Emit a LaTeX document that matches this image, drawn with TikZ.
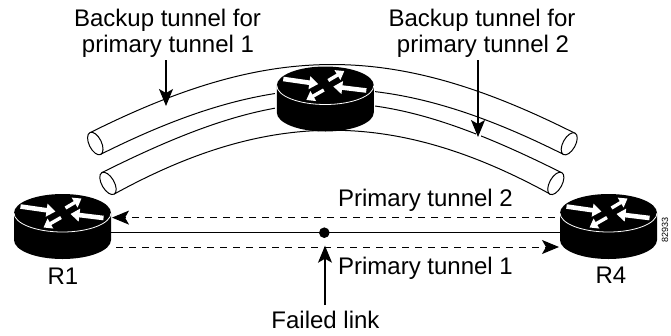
\documentclass[tikz,border=0pt]{standalone}
\usepackage{fontspec}
\setmainfont{Liberation Sans}
\usetikzlibrary{arrows.meta}
\tikzset{
  lbl/.style={inner sep=0pt,anchor=base,font=\fontsize{24}{24}\selectfont,text=black},
  tube/.style={draw=black,line width=1pt},
  ptr/.style={draw=black,line width=1.1pt,-{Stealth[length=17pt,width=14pt,inset=4pt]}},
  dashline/.style={draw=black,line width=1pt,dash pattern=on 7pt off 6pt,-{Stealth[length=17pt,width=14pt,inset=4pt,sep=0pt]}},
  rarrow/.style={draw=white,line width=4.6pt,-{Triangle[length=9pt,width=12.5pt]}},
  rarrowshort/.style={draw=white,line width=3.4pt,-{Triangle[length=8pt,width=11pt]}},
  pics/routerhalo/.style={code={
    \draw[white,line width=3pt] (-48.5,0) -- (-48.5,27) (48.5,0) -- (48.5,27);
  }},
  pics/router/.style={code={
    \fill[black] (-48.5,0) -- (-48.5,27) arc[start angle=180,end angle=0,x radius=48.5,y radius=19] -- (48.5,0) arc[start angle=0,end angle=180,x radius=48.5,y radius=-19] -- cycle;
    \draw[white,line width=.8pt] (-48.5,0) arc[start angle=180,end angle=0,x radius=48.5,y radius=19];
    \draw[rarrow] (-42,-6.5) -- (-7,-1.5);
    \draw[rarrowshort] (3,-5) -- (19,-14.5);
    \draw[rarrow] (41,5) -- (8,1);
    \draw[rarrowshort] (-1.5,4.5) -- (-19,14.5);
  }}
}
\begin{document}
\begin{tikzpicture}[x=1pt,y=-1pt]
\useasboundingbox (0,0) rectangle (671,335);
% tubes
\coordinate (a1) at (90,132.7);   \coordinate (b1) at (575,133.3);
\coordinate (a2) at (100.7,154.3);\coordinate (b2) at (563.3,154.3);
\coordinate (a3) at (101.7,172.7);\coordinate (b3) at (561.7,172.7);
\coordinate (a4) at (114.3,194);  \coordinate (b4) at (550,194);
\draw[tube] (a1) .. controls (272,41.7) and (393,41.7) .. (b1);
\draw[tube] (a2) .. controls (274.7,67.3) and (389.3,67.3) .. (b2);
\draw[tube] (a3) .. controls (287.7,79.7) and (375.7,79.7) .. (b3);
\draw[tube] (a4) .. controls (269,109) and (395,109) .. (b4);
\draw[tube,fill=white] (95.3,143.5) ellipse[x radius=12.2,y radius=6.2,rotate=-64];
\draw[tube,fill=white] (108,183.4) ellipse[x radius=12.4,y radius=6.2,rotate=-60];
\draw[tube,fill=white] (569.2,143.8) ellipse[x radius=12.2,y radius=6.2,rotate=61];
\draw[tube,fill=white] (555.8,183.4) ellipse[x radius=12.4,y radius=6.2,rotate=61];
% links
\coordinate (l1) at (60,232.7); \coordinate (l2) at (610,232.7);
\draw[black,line width=1pt] (l1) -- (l2);
\pic at (62.5,213) {router};
\pic at (325.3,85.5) {routerhalo};
\pic at (325.3,85.5) {router};
\pic at (608.5,213) {router};
\coordinate (d2a) at (555,217.6); \coordinate (d2b) at (112,217.6);
\coordinate (d1a) at (116,247); \coordinate (d1b) at (559,247);
\draw[dashline] (d2a) -- (d2b);
\draw[dashline] (d1a) -- (d1b);
\node[circle,fill=black,inner sep=0pt,minimum size=10.6pt] (dot) at (324.3,232.7) {};
% labels
\node[lbl] (t1a) at (167.5,26) {Backup tunnel for};
\node[lbl] (t1b) at (168,52) {primary tunnel 1};
\node[lbl] (t2a) at (482,26) {Backup tunnel for};
\node[lbl] (t2b) at (483,52) {primary tunnel 2};
\node[lbl] (p2) at (425.5,206.7) {Primary tunnel 2};
\node[lbl] (p1) at (425.5,274) {Primary tunnel 1};
\node[lbl] (r1) at (63,284) {R1};
\node[lbl] (r4) at (611,283) {R4};
\node[lbl] (f) at (325.5,328) {Failed link};
\node[inner sep=0pt,font=\fontsize{9}{9}\selectfont,rotate=90] (num) at (665,230) {82933};
% pointers
\coordinate (h1) at (166,106); \coordinate (s1) at (166,60);
\coordinate (h2) at (478,137); \coordinate (s2) at (478,60);
\coordinate (h3) at (325,245.7); \coordinate (s3) at (325,305);
\draw[white,line width=5pt] (166,88) -- (166,108);
\draw[white,line width=5pt] (478,120) -- (478,139);
\draw[ptr] (s1) -- (h1);
\draw[ptr] (s2) -- (h2);
\draw[ptr] (s3) -- (h3);
\end{tikzpicture}
\end{document}
